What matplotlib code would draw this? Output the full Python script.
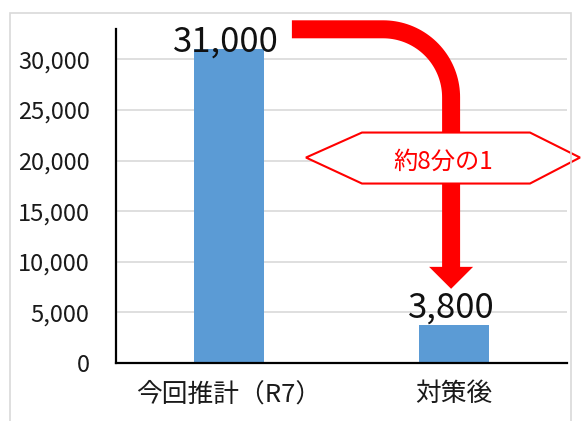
import numpy as np
import matplotlib
matplotlib.use("Agg")
import matplotlib.pyplot as plt
from matplotlib.patches import Polygon, Rectangle
from matplotlib.transforms import IdentityTransform

plt.rcParams["font.family"] = ["Noto Sans CJK JP", "DejaVu Sans"]

categories = ["今回推計（R7）", "対策後"]
values = [31000, 3800]
value_labels = ["31,000", "3,800"]
yticks = [0, 5000, 10000, 15000, 20000, 25000, 30000]
ratio_label = "約8分の1"

bar_color = "#5B9BD5"
red = "#FF0000"
grid_color = "#D9D9D9"

fig = plt.figure(figsize=(5.82, 4.21), dpi=100)
ax = fig.add_axes([116 / 582, 1 - 363 / 421, 451 / 582, 334 / 421])

x = np.arange(len(categories))
ax.bar(x, values, width=0.31, color=bar_color, zorder=2)
ax.set_xlim(-0.5, 1.5)
ax.set_ylim(0, 33000)

ax.set_yticks(yticks)
ax.set_yticklabels([f"{v:,}" for v in yticks], fontsize=17, color="#1a1a1a")
ax.set_xticks(x)
ax.set_xticklabels(categories, fontsize=18.5, color="#1a1a1a")
ax.tick_params(axis="y", length=0, pad=19)
ax.tick_params(axis="x", length=0, pad=13)

ax.grid(axis="y", color=grid_color, linewidth=1.2, zorder=0)
ax.set_axisbelow(True)
for side in ["top", "right"]:
    ax.spines[side].set_visible(False)
ax.spines["left"].set_linewidth(1.6)
ax.spines["bottom"].set_linewidth(1.6)

# value labels
offsets = [-2, 5]
for xi, v, lab, off in zip(x, values, value_labels, offsets):
    ax.annotate(lab, (xi, v), xytext=(-2, off), textcoords="offset points",
                ha="center", va="baseline", fontsize=25, color="#111111", zorder=4)

# red bent arrow, built in pixel space from data anchors
fig.canvas.draw()
to_px = ax.transData.transform
x0, ytop = to_px((0.28, 32970))
xs, _ = to_px((0.986, 0))
_, ybot = to_px((0, 9400))
_, ytip = to_px((0, 7330))
r = 68
cx, cy = xs - r, ytop - r
t = np.linspace(np.pi / 2, 0, 40)
px = np.concatenate([[x0], cx + r * np.cos(t), [xs]])
py = np.concatenate([[ytop], cy + r * np.sin(t), [ybot]])
ax.plot(px, py, color=red, linewidth=18 * 72 / 100, solid_capstyle="butt",
        solid_joinstyle="round", transform=IdentityTransform(), clip_on=False, zorder=5)
head = Polygon([[xs - 22, ybot + 1], [xs + 22, ybot + 1], [xs, ytip]], closed=True,
               facecolor=red, edgecolor="none", transform=IdentityTransform(),
               clip_on=False, zorder=5)
ax.add_patch(head)

# hexagon callout
hx, hy = to_px((0.95, 20300))
hexagon = Polygon([[hx - 137, hy], [hx - 81, hy + 25], [hx + 87, hy + 25],
                   [hx + 137, hy], [hx + 87, hy - 26], [hx - 81, hy - 26]],
                  closed=True, facecolor="white", edgecolor=red, linewidth=1.5,
                  transform=IdentityTransform(), clip_on=False, zorder=6)
ax.add_patch(hexagon)
ax.text(hx, hy - 4, ratio_label, ha="center", va="center", fontsize=17.5, color=red,
        transform=IdentityTransform(), zorder=7)

# chart frame
fig.patches.append(Rectangle((10 / 582, -0.05), 561 / 582, 1.05 - 13 / 421,
                             transform=fig.transFigure, fill=False,
                             edgecolor=grid_color, linewidth=1.2))

fig.savefig("out.png", dpi=100)
